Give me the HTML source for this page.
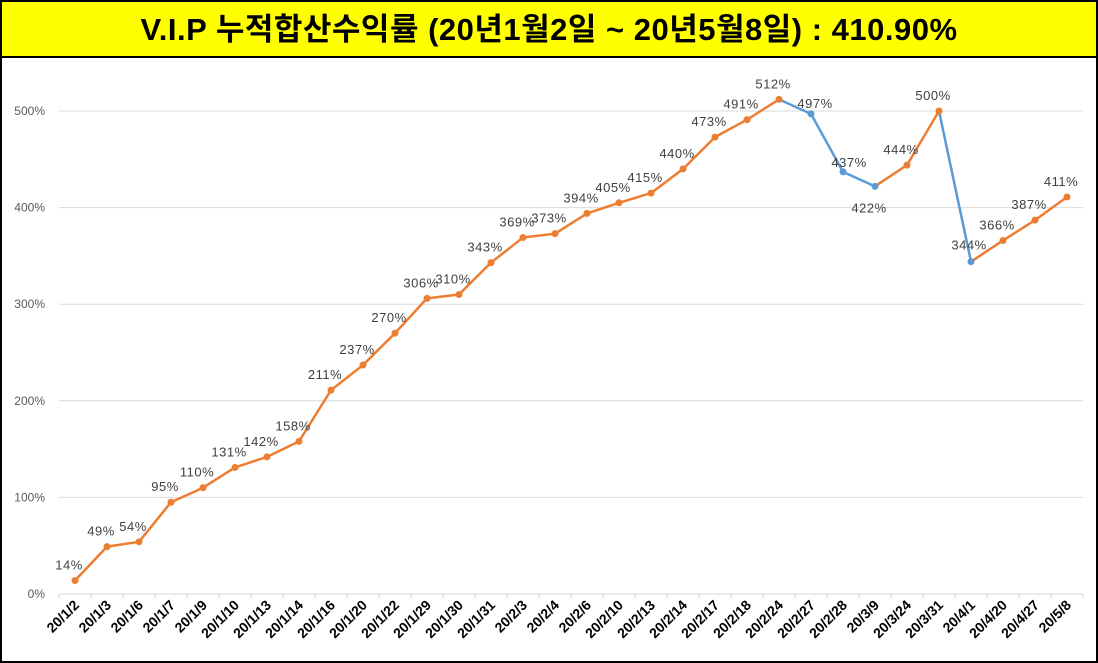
<!DOCTYPE html>
<html><head><meta charset="utf-8"><style>
body{margin:0;width:1098px;height:663px;overflow:hidden;background:#fff;font-family:"Liberation Sans","Noto Sans CJK KR",sans-serif}
#frame{position:absolute;left:0;top:0;width:1094px;height:659px;border:2px solid #000;background:#fff}
#title{position:absolute;left:0;top:0;width:1094px;height:54px;background:#ffff00;border-bottom:2px solid #000;text-align:center;line-height:56px;font-size:31px;letter-spacing:0.5px;font-weight:bold;color:#000}
svg{position:absolute;left:0;top:0}
</style></head><body>
<div id="frame">
<div id="title">V.I.P 누적합산수익률 (20년1월2일 ~ 20년5월8일) : 410.90%</div>
</div>
<svg id="chart" width="1098" height="663"></svg>
<script>
const categories=["20/1/2","20/1/3","20/1/6","20/1/7","20/1/9","20/1/10","20/1/13","20/1/14","20/1/16","20/1/20","20/1/22","20/1/29","20/1/30","20/1/31","20/2/3","20/2/4","20/2/6","20/2/10","20/2/13","20/2/14","20/2/17","20/2/18","20/2/24","20/2/27","20/2/28","20/3/9","20/3/24","20/3/31","20/4/1","20/4/20","20/4/27","20/5/8"];
const values=[14,49,54,95,110,131,142,158,211,237,270,306,310,343,369,373,394,405,415,440,473,491,512,497,437,422,444,500,344,366,387,411];
const yTicks=[0,100,200,300,400,500];
const NS="http://www.w3.org/2000/svg";
const svg=document.getElementById('chart');
const x0=59,x1=1083,yBase=594,yPer=0.966;
const step=(x1-x0)/categories.length;
const xs=i=>x0+step*(i+0.5);
const ys=v=>yBase-v*yPer;
function mk(t,a){const e=document.createElementNS(NS,t);for(const k in a)e.setAttribute(k,a[k]);svg.appendChild(e);return e;}
yTicks.forEach(t=>{
  if(t>0){const g=mk('line',{x1:x0,x2:x1,y1:ys(t),y2:ys(t),stroke:'#d9d9d9','stroke-width':1});
  
  }
  const l=mk('text',{x:45,y:ys(t)+4,'text-anchor':'end','font-size':12,fill:'#595959'});
  l.textContent=t+'%';
  
  
});
const ax=mk('line',{x1:x0,x2:x1,y1:yBase,y2:yBase,stroke:'#d9d9d9','stroke-width':1});


for(let i=0;i<=categories.length;i++){
  const tk=mk('line',{x1:x0+step*i,x2:x0+step*i,y1:yBase,y2:yBase+5,stroke:'#d9d9d9'});
  
  
}
categories.forEach((c,i)=>{
  const x=xs(i)+5,y=yBase+12;
  const t=mk('text',{x:x,y:y,'text-anchor':'end','font-size':14,'font-weight':'bold',fill:'#000',transform:`rotate(-45 ${x} ${y})`});
  t.textContent=c;
  
  
});
for(let i=1;i<values.length;i++){
  const col=values[i]<values[i-1]?'#5b9bd5':'#ed7d31';
  const s=mk('line',{x1:xs(i-1),y1:ys(values[i-1]),x2:xs(i),y2:ys(values[i]),stroke:col,'stroke-width':2.5,'stroke-linecap':'round'});
  
  
}
values.forEach((v,i)=>{
  const col=(i>0&&v<values[i-1])?'#5b9bd5':'#ed7d31';
  const p=mk('circle',{cx:xs(i),cy:ys(v),r:3.5,fill:col});
  
  
  let dx=-6,dy=-11,anc='middle';
  if(i===25){dx=-6;dy=26;}
  if(i===28){dx=-2;dy=-12;}
  if(i===23){dx=4;dy=-6;anc='middle';}
  if(i===24){dx=6;dy=-5;}
  const t=mk('text',{x:xs(i)+dx,y:ys(v)+dy,'text-anchor':anc,'font-size':13,'letter-spacing':'0.5',fill:'#404040'});
  t.textContent=v+'%';
  
  
});
</script>
</body></html>
